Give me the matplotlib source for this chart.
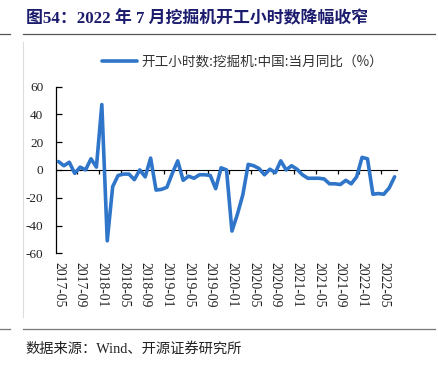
import matplotlib
matplotlib.use('Agg')
import matplotlib.pyplot as plt
from matplotlib.lines import Line2D
import numpy as np

plt.rcParams['font.family'] = ['Liberation Serif', 'Noto Sans CJK SC']
plt.rcParams['axes.unicode_minus'] = False

# monthly yoy, 2017-05 .. 2022-07
yoy = [6, 3, 5.5, -2.5, 2, 0, 8, 2, 47, -51,
       -12, -4, -3, -3, -7, 0, -5, 8.5, -14.5, -14,
       -12.5, -2.5, 6.5, -7.5, -4.5, -6, -3.5, -3.5, -4, -13.5,
       1.5, 0, -44, -32, -18, 4, 3, 1, -3.5, 0.5,
       -2, 6.5, 0, 3, 0.5, -3.5, -6, -6, -6, -6.5,
       -10, -10, -10.5, -7.5, -10, -5, 9, 8, -17.5, -17,
       -17.5, -13, -5]
tick_labels = ['2017-05', '2017-09', '2018-01', '2018-05', '2018-09', '2019-01',
               '2019-05', '2019-09', '2020-01', '2020-05', '2020-09', '2021-01',
               '2021-05', '2021-09', '2022-01', '2022-05']
y_ticks = [60, 40, 20, 0, -20, -40, -60]

title = '图54：2022 年 7 月挖掘机开工小时数降幅收窄'
legend_label = '开工小时数:挖掘机:中国:当月同比（%）'
source = '数据来源：Wind、开源证券研究所'

line_color = '#2F75C9'

fig = plt.figure(figsize=(4.39, 3.65), dpi=100)
ax = fig.add_axes([0.127, 0.306, 0.778, 0.457])

x = np.arange(len(yoy))
ax.plot(x, yoy, color=line_color, lw=2.6, solid_joinstyle='round',
        solid_capstyle='round', zorder=3, label=legend_label)

ax.set_xlim(-0.5, len(yoy) - 0.5)
ax.set_ylim(-60, 60)

# tick labels at bottom, no marks
ax.set_xticks(np.arange(0, len(yoy), 4))
ax.set_xticklabels(tick_labels, rotation=270, fontsize=9.8, color='#222222')
ax.tick_params(axis='x', length=0, pad=6)

ax.set_yticks(y_ticks)
ax.set_yticklabels([str(v) for v in y_ticks], fontsize=9.5, color='#222222')
ax.tick_params(axis='y', direction='in', length=4, width=0.9, pad=9)

for s in ['top', 'right', 'bottom']:
    ax.spines[s].set_visible(False)
ax.spines['left'].set_linewidth(0.9)

# zero line with tick marks between category groups
sec = ax.secondary_xaxis(0.5)
sec.set_xticks(np.arange(3.5, len(yoy), 4))
sec.set_xticklabels([])
sec.tick_params(direction='in', length=3, width=0.9)
sec.spines['bottom'].set_linewidth(1.0)

ax.legend(loc='center', bbox_to_anchor=(0.552, 0.830), bbox_transform=fig.transFigure,
          frameon=False, handlelength=2.6, handletextpad=0.3,
          prop={'family': 'Noto Sans CJK SC', 'size': 9.8}, labelcolor='#333333')

# title, source and page rules
fig.text(0.059, 0.948, title, fontsize=12.2, fontweight='bold', color='#1C1C6E',
         va='center', ha='left')
fig.text(0.057, 0.044, source, fontsize=10.3, color='#222222', va='center', ha='left')

fig.add_artist(Line2D([23 / 439, 435 / 439], [1 - 34 / 365] * 2, color='#555555', lw=0.9))
fig.add_artist(Line2D([0, 10 / 439], [1 - 34 / 365] * 2, color='#555555', lw=0.9))
fig.add_artist(Line2D([23 / 439, 435 / 439], [1 - 329 / 365] * 2, color='#777777', lw=0.9))
fig.add_artist(Line2D([0, 10 / 439], [1 - 329 / 365] * 2, color='#777777', lw=0.9))
fig.add_artist(Line2D([23 / 439] * 2, [1 - 42 / 365, 1 - 317 / 365], color='#dddddd', lw=0.8))

fig.savefig('out.png', dpi=100)
